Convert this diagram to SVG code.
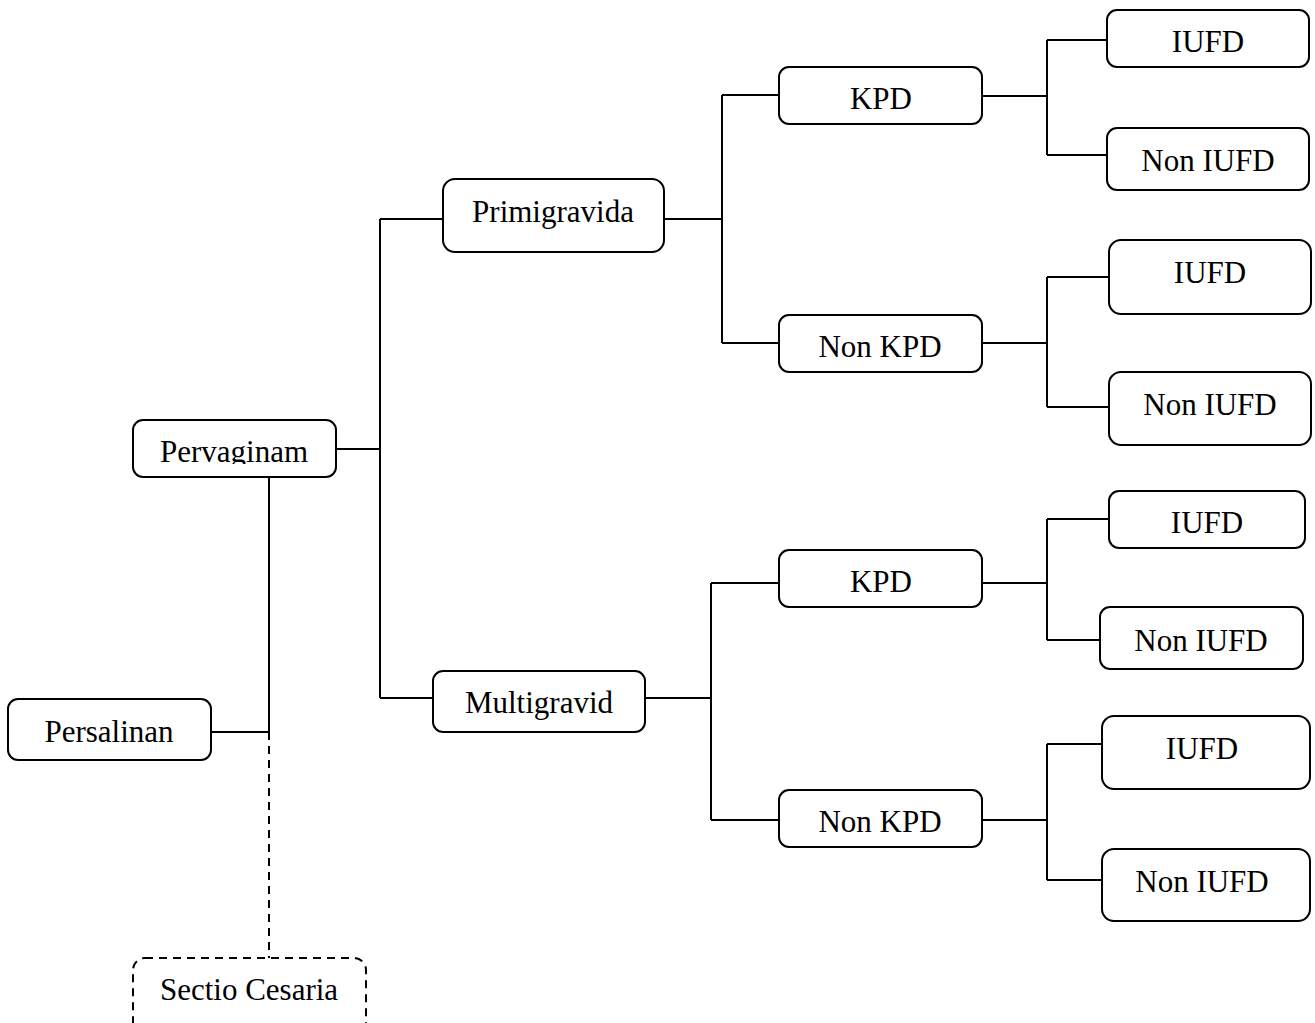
<svg xmlns="http://www.w3.org/2000/svg" width="1315" height="1023" viewBox="0 0 1315 1023">
<style>
.box{fill:#fff;stroke:#000;stroke-width:2}
.dash{fill:#fff;stroke:#000;stroke-width:2;stroke-dasharray:8 6}
.t{font-family:"Liberation Serif","Times New Roman",serif;font-size:31px;fill:#000;text-anchor:middle}
.c{fill:none;stroke:#000;stroke-width:2}
.cd{fill:none;stroke:#000;stroke-width:2;stroke-dasharray:8 6}
</style>
<defs>
<clipPath id="clipPerv"><rect x="133" y="420" width="204" height="44"/></clipPath>
</defs>
<rect width="1315" height="1023" fill="#fff"/>
<g id="connectors">
<path class="c" d="M211 732H269V477"/>
<path class="cd" d="M269 732V958"/>
<path class="c" d="M336 449H380M380 219V698M380 219H443M380 698H433"/>
<path class="c" d="M664 219H722M722 95V343M722 95H779M722 343H779"/>
<path class="c" d="M645 698H711M711 583V820M711 583H779M711 820H779"/>
<path class="c" d="M982 96H1047M1047 40V155M1047 40H1107M1047 155H1107"/>
<path class="c" d="M982 343H1047M1047 277V407M1047 277H1109M1047 407H1109"/>
<path class="c" d="M982 583H1047M1047 519V640M1047 519H1109M1047 640H1100"/>
<path class="c" d="M982 820H1047M1047 744V880M1047 744H1106M1047 880H1102"/>
</g>
<g id="persalinan"><rect class="box" x="8" y="699" width="203" height="61" rx="10"/><text class="t" x="109" y="742">Persalinan</text></g>
<g id="pervaginam"><rect class="box" x="133" y="420" width="203" height="57" rx="10"/><text class="t" x="234" y="462" clip-path="url(#clipPerv)">Pervaginam</text></g>
<g id="sectio"><rect class="dash" x="133" y="958" width="233" height="80" rx="12"/><text class="t" x="249" y="1000">Sectio Cesaria</text></g>
<g id="primigravida"><rect class="box" x="443" y="179" width="221" height="73" rx="12"/><text class="t" x="553" y="222">Primigravida</text></g>
<g id="multigravid"><rect class="box" x="433" y="671" width="212" height="61" rx="10"/><text class="t" x="539" y="713">Multigravid</text></g>
<g id="kpd1"><rect class="box" x="779" y="67" width="203" height="57" rx="10"/><text class="t" x="881" y="109">KPD</text></g>
<g id="nonkpd1"><rect class="box" x="779" y="315" width="203" height="57" rx="10"/><text class="t" x="880" y="357">Non KPD</text></g>
<g id="kpd2"><rect class="box" x="779" y="550" width="203" height="57" rx="10"/><text class="t" x="881" y="592">KPD</text></g>
<g id="nonkpd2"><rect class="box" x="779" y="790" width="203" height="57" rx="10"/><text class="t" x="880" y="832">Non KPD</text></g>
<g id="iufd1"><rect class="box" x="1107" y="10" width="202" height="57" rx="10"/><text class="t" x="1208" y="52">IUFD</text></g>
<g id="noniufd1"><rect class="box" x="1107" y="128" width="202" height="62" rx="10"/><text class="t" x="1208" y="171">Non IUFD</text></g>
<g id="iufd2"><rect class="box" x="1109" y="240" width="202" height="74" rx="12"/><text class="t" x="1210" y="283">IUFD</text></g>
<g id="noniufd2"><rect class="box" x="1109" y="372" width="202" height="73" rx="12"/><text class="t" x="1210" y="415">Non IUFD</text></g>
<g id="iufd3"><rect class="box" x="1109" y="491" width="196" height="57" rx="10"/><text class="t" x="1207" y="533">IUFD</text></g>
<g id="noniufd3"><rect class="box" x="1100" y="607" width="203" height="62" rx="10"/><text class="t" x="1201" y="651">Non IUFD</text></g>
<g id="iufd4"><rect class="box" x="1102" y="716" width="208" height="73" rx="12"/><text class="t" x="1202" y="759">IUFD</text></g>
<g id="noniufd4"><rect class="box" x="1102" y="849" width="208" height="72" rx="12"/><text class="t" x="1202" y="892">Non IUFD</text></g>
</svg>
